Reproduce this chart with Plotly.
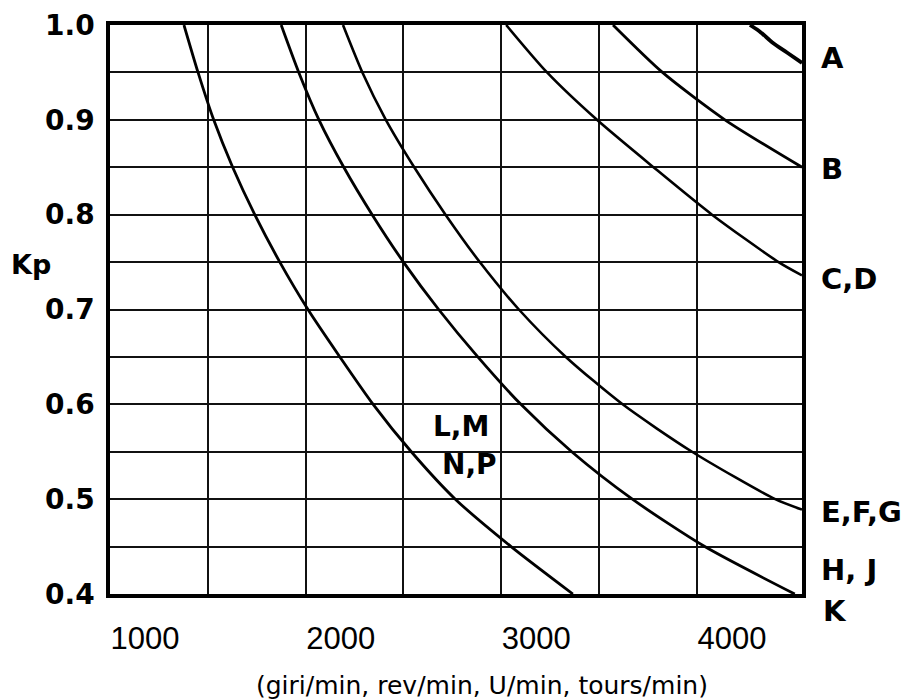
import plotly.graph_objects as go

# ---- data ----
kp_grid = [1.0, 0.95, 0.9, 0.85, 0.8, 0.75, 0.7, 0.65, 0.6, 0.55, 0.5, 0.45, 0.4]

rpm_lmnp = [1378, 1450, 1530, 1627, 1740, 1868, 2012, 2175, 2345, 2540, 2765, 3050, 3366]
kp_lmnp = kp_grid

rpm_hj = [1875, 1965, 2068, 2195, 2340, 2500, 2680, 2880, 3100, 3360, 3670, 4040, 4500]
kp_hj = kp_grid

rpm_efg = [2191, 2290, 2410, 2555, 2715, 2890, 3090, 3330, 3620, 3975, 4400, 4537]
kp_efg = [1.0, 0.95, 0.9, 0.85, 0.8, 0.75, 0.7, 0.65, 0.6, 0.55, 0.5, 0.489]

rpm_cd = [3025, 3234, 3489, 3778, 4077, 4417, 4537]
kp_cd = [1.0, 0.95, 0.9, 0.85, 0.8, 0.75, 0.736]

rpm_b = [3571, 3824, 4143, 4537]
kp_b = [1.0, 0.95, 0.9, 0.85]

rpm_a = [4271, 4322, 4389, 4460, 4537]
kp_a = [1.0, 0.993, 0.981, 0.971, 0.96]

x_range = [1000, 4537]
y_range = [0.4, 1.0]
x_tickvals = [1000, 2000, 3000, 4000]
x_ticktext = ["1000", "2000", "3000", "4000"]
y_tickvals = [0.4, 0.5, 0.6, 0.7, 0.8, 0.9, 1.0]
y_ticktext = ["0.4", "0.5", "0.6", "0.7", "0.8", "0.9", "1.0"]

right_labels = ["A", "B", "C,D", "E,F,G", "H, J"]
right_label_kp = [0.965, 0.848, 0.732, 0.486, 0.425]
bottom_label = "K"

curve_labels = ["L,M", "N,P"]
curve_label_rpm = [2794, 2840]
curve_label_kp = [0.577, 0.537]

x_title = "(giri/min, rev/min, U/min, tours/min)"
y_title = "Kp"

# ---- figure ----
fig = go.Figure()
curves = [
    (rpm_lmnp, kp_lmnp, 2.8),
    (rpm_hj, kp_hj, 2.8),
    (rpm_efg, kp_efg, 2.6),
    (rpm_cd, kp_cd, 2.6),
    (rpm_b, kp_b, 2.8),
    (rpm_a, kp_a, 3.8),
]
for xs, ys, w in curves:
    fig.add_trace(go.Scatter(x=xs, y=ys, mode="lines",
                             line=dict(color="black", width=w, shape="spline", smoothing=0.7),
                             showlegend=False, hoverinfo="skip", cliponaxis=True))

label_font = dict(family="DejaVu Sans", size=29, color="black", weight="bold")
for t, yv in zip(right_labels, right_label_kp):
    fig.add_annotation(x=x_range[1], y=yv, xref="x", yref="y", text=t, showarrow=False,
                       xanchor="left", yanchor="middle", xshift=17, font=label_font)
# "K" sits just below the bottom edge of the plot
fig.add_annotation(x=x_range[1], y=y_range[0], xref="x", yref="y", text=bottom_label,
                   showarrow=False, xanchor="left", yanchor="middle", xshift=19, yshift=-17,
                   font=label_font)
for t, xv, yv in zip(curve_labels, curve_label_rpm, curve_label_kp):
    fig.add_annotation(x=xv, y=yv, xref="x", yref="y", text=t, showarrow=False,
                       xanchor="center", yanchor="middle",
                       font=dict(family="DejaVu Sans", size=28, color="black", weight="bold"))
fig.add_annotation(x=0, y=0.747, xref="paper", yref="y", text=y_title, showarrow=False,
                   xanchor="center", yanchor="middle", xshift=-79,
                   font=dict(family="DejaVu Sans", size=27, color="black", weight="bold"))
fig.add_annotation(x=0.5376, y=-0.16, xref="paper", yref="paper", text=x_title, showarrow=False,
                   xanchor="center", yanchor="middle",
                   font=dict(family="DejaVu Sans", size=25, color="black"))

fig.update_xaxes(range=x_range, tickmode="array", tickvals=x_tickvals, ticktext=x_ticktext,
                 ticks="", ticklabelshift=35, ticklabelstandoff=14, automargin=False,
                 tickfont=dict(family="Liberation Sans", size=31, color="black"),
                 showgrid=True, gridcolor="#111", gridwidth=1.6,
                 minor=dict(tickmode="array", tickvals=[1500, 2500, 3500], showgrid=True,
                            gridcolor="#111", gridwidth=1.6),
                 showline=True, linecolor="black", linewidth=3.5, mirror=True, zeroline=False)
fig.update_yaxes(range=y_range, tickmode="array", tickvals=y_tickvals, ticktext=y_ticktext,
                 ticks="", ticklabelstandoff=6, automargin=False,
                 tickfont=dict(family="DejaVu Sans", size=28, color="black", weight="bold"),
                 showgrid=True, gridcolor="#111", gridwidth=1.6,
                 minor=dict(tickmode="array", tickvals=[0.45, 0.55, 0.65, 0.75, 0.85, 0.95],
                            showgrid=True, gridcolor="#111", gridwidth=1.6),
                 showline=True, linecolor="black", linewidth=3.5, mirror=True, zeroline=False)

# page body has an 8px margin: size and margins compensate so the plot lands where the reference has it
fig.update_layout(width=908, height=692, paper_bgcolor="white", plot_bgcolor="white",
                  margin=dict(l=102, r=114, t=17, b=106), showlegend=False)

fig.write_html("out.html")
